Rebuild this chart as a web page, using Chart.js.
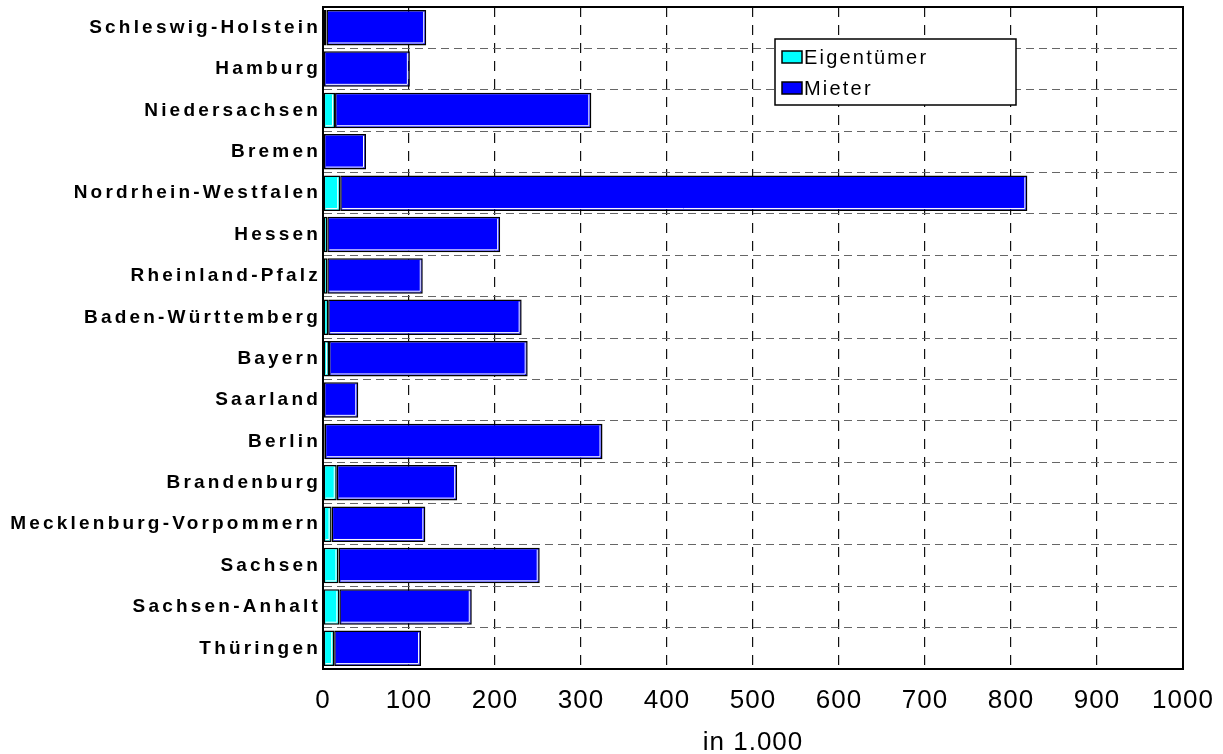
<!DOCTYPE html>
<html>
<head>
<meta charset="utf-8">
<script src="https://cdn.jsdelivr.net/npm/chart.js@4/dist/chart.umd.min.js"></script>
<style>
  html, body { margin: 0; padding: 0; background: #fff; }
  #wrap { width: 1223px; height: 754px; }
</style>
</head>
<body>
<div id="wrap"><canvas id="myChart"></canvas></div>
<script>
const laender = ['Schleswig-Holstein', 'Hamburg', 'Niedersachsen', 'Bremen', 'Nordrhein-Westfalen',
  'Hessen', 'Rheinland-Pfalz', 'Baden-Württemberg', 'Bayern', 'Saarland', 'Berlin',
  'Brandenburg', 'Mecklenburg-Vorpommern', 'Sachsen', 'Sachsen-Anhalt', 'Thüringen'];
const eigentuemer = [4, 1, 14, 1, 20, 5, 5, 6, 7, 1, 2, 16, 10, 18, 19, 13];
const mieter = [116, 100, 298, 49, 799, 201, 111, 225, 231, 40, 323, 140, 109, 234, 154, 101];
const xTicks = [0, 100, 200, 300, 400, 500, 600, 700, 800, 900, 1000];

const fontFamily = '"Liberation Sans", Arial, sans-serif';

// canvas letter spacing per scale (the original labels are spaced out)
const spacingPlugin = {
  id: 'spacing',
  afterLayout(chart) {
    const sp = { x: '1px', y: '3.2px' };
    Object.keys(sp).forEach(id => {
      const s = chart.scales[id];
      if (!s || s._spaced) return;
      s._spaced = true;
      const drawLabels = s.drawLabels.bind(s);
      const drawTitle = s.drawTitle.bind(s);
      s.drawLabels = function (area) {
        const ctx = chart.ctx;
        ctx.save();
        ctx.letterSpacing = sp[id];
        drawLabels(area);
        ctx.restore();
      };
      s.drawTitle = function () {
        const ctx = chart.ctx;
        ctx.save();
        ctx.letterSpacing = sp[id];
        drawTitle();
        ctx.restore();
      };
    });
  }
};

// white inner bevel on right and bottom of each bar + frame round the plot
const bevelPlugin = {
  id: 'bevel',
  afterDatasetsDraw(chart) {
    const ctx = chart.ctx;
    ctx.save();
    ctx.strokeStyle = '#fff';
    ctx.lineWidth = 1;
    chart.data.datasets.forEach((ds, i) => {
      chart.getDatasetMeta(i).data.forEach(bar => {
        const { x, y, base, height } = bar.getProps(['x', 'y', 'base', 'height'], true);
        if (x - base < 5) return;
        const right = x - 2.5, bottom = y + height / 2 - 2.5, top = y - height / 2 + 2;
        ctx.beginPath();
        ctx.moveTo(right, top);
        ctx.lineTo(right, bottom);
        ctx.lineTo(base + 2, bottom);
        ctx.stroke();
      });
    });
    ctx.restore();
  },
  afterDraw(chart) {
    const { left, top, width, height } = chart.chartArea;
    const ctx = chart.ctx;
    ctx.save();
    ctx.strokeStyle = '#000';
    ctx.lineWidth = 2;
    ctx.strokeRect(left, top, width, height);
    ctx.restore();
  }
};

const boxLegend = {
  id: 'boxLegend',
  afterDraw(chart) {
    const ctx = chart.ctx;
    const a = chart.chartArea;
    const bx = a.left + 452, by = a.top + 32, bw = 241, bh = 66;
    ctx.save();
    ctx.fillStyle = '#fff';
    ctx.fillRect(bx, by, bw, bh);
    ctx.strokeStyle = '#000';
    ctx.lineWidth = 1.5;
    ctx.strokeRect(bx, by, bw, bh);
    ctx.font = '20px ' + fontFamily;
    ctx.letterSpacing = '2.2px';
    ctx.textBaseline = 'middle';
    chart.data.datasets.forEach((ds, i) => {
      const sy = by + 12 + i * 31;
      ctx.fillStyle = ds.backgroundColor;
      ctx.fillRect(bx + 7, sy, 20, 12);
      ctx.strokeStyle = '#000';
      ctx.lineWidth = 1.5;
      ctx.strokeRect(bx + 7, sy, 20, 12);
      ctx.fillStyle = '#000';
      ctx.fillText(ds.label, bx + 29, sy + 7);
    });
    ctx.restore();
  }
};

new Chart(document.getElementById('myChart'), {
  type: 'bar',
  data: {
    labels: laender,
    datasets: [{
      label: 'Eigentümer',
      data: eigentuemer,
      backgroundColor: '#00ffff',
      borderColor: '#000',
      borderWidth: 1.5,
      borderSkipped: false
    }, {
      label: 'Mieter',
      data: mieter,
      backgroundColor: '#0000ff',
      borderColor: '#000',
      borderWidth: 1.5,
      borderSkipped: false
    }]
  },
  options: {
    indexAxis: 'y',
    responsive: true,
    maintainAspectRatio: false,
    animation: false,
    categoryPercentage: 0.86,
    barPercentage: 1,
    layout: { padding: { top: 7, right: 40, left: 0, bottom: 0 } },
    plugins: {
      legend: { display: false },
      tooltip: { enabled: false }
    },
    scales: {
      x: {
        stacked: true,
        min: 0,
        max: 1000,
        afterBuildTicks: s => { s.ticks = xTicks.map(v => ({ value: v })); },
        afterFit: s => { s.height = 85; s.paddingLeft = 0; s.paddingRight = 0; },
        grid: { color: '#111', lineWidth: 1.2, drawTicks: false },
        border: { display: true, color: '#000', width: 2, dash: [10, 8] },
        ticks: {
          color: '#000',
          padding: 16,
          callback: v => String(v),
          font: { family: fontFamily, size: 26 }
        },
        title: {
          display: true,
          text: 'in 1.000',
          color: '#000',
          padding: { top: 4, bottom: -4 },
          font: { family: fontFamily, size: 26 }
        }
      },
      y: {
        stacked: true,
        afterFit: s => { s.width = 323; s.paddingTop = 0; s.paddingBottom = 0; },
        grid: { color: '#666', lineWidth: 1, drawTicks: false },
        border: { display: true, color: '#000', width: 2, dash: [8, 5] },
        ticks: { color: '#000', padding: 2, font: { family: fontFamily, size: 19, weight: 'bold' } }
      }
    }
  },
  plugins: [spacingPlugin, bevelPlugin, boxLegend]
});
</script>
</body>
</html>
